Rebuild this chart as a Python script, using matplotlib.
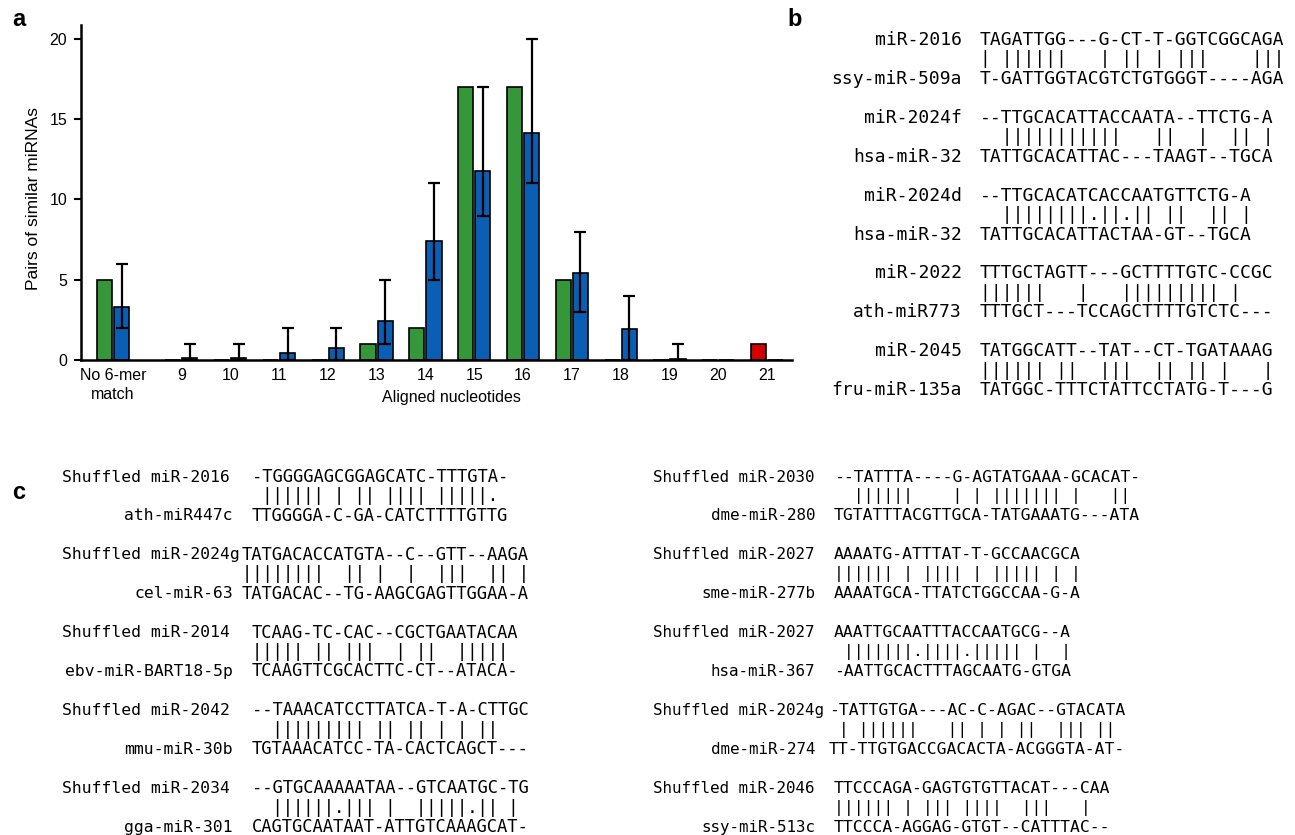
import numpy as np
import matplotlib.pyplot as plt

# ---- panel a data ----
categories = ["No 6-mer\nmatch", "9", "10", "11", "12", "13", "14",
              "15", "16", "17", "18", "19", "20", "21"]
observed = [5, 0, 0, 0, 0, 1, 2, 17, 17, 5, 0, 0, 0, 1]
shuffled_mean = [3.3, 0.1, 0.1, 0.42, 0.77, 2.4, 7.4, 11.75, 14.15, 5.4, 1.95, 0.08, 0, 0]
shuffled_low = [2, 0, 0, 0, 0, 1, 5, 9, 11, 3, 0, 0, np.nan, np.nan]
shuffled_high = [6, 1, 1, 2, 2, 5, 11, 17, 20, 8, 4, 1, np.nan, np.nan]

# ---- panel b data ----
b_top_names = ["miR-2016", "miR-2024f", "miR-2024d", "miR-2022", "miR-2045"]
b_top_seqs = ["TAGATTGG---G-CT-T-GGTCGGCAGA",
              "--TTGCACATTACCAATA--TTCTG-A",
              "--TTGCACATCACCAATGTTCTG-A",
              "TTTGCTAGTT---GCTTTTGTC-CCGC",
              "TATGGCATT--TAT--CT-TGATAAAG"]
b_matches = ["| ||||||   | || | |||    |||",
             "  |||||||||||   ||  |  || |",
             "  ||||||||.||.|| ||  || |",
             "||||||   |   ||||||||| |",
             "|||||| ||  |||  || || |   |"]
b_bot_names = ["ssy-miR-509a", "hsa-miR-32", "hsa-miR-32", "ath-miR773", "fru-miR-135a"]
b_bot_seqs = ["T-GATTGGTACGTCTGTGGGT----AGA",
              "TATTGCACATTAC---TAAGT--TGCA",
              "TATTGCACATTACTAA-GT--TGCA",
              "TTTGCT---TCCAGCTTTTGTCTC---",
              "TATGGC-TTTCTATTCCTATG-T---G"]

# ---- panel c data ----
cl_top_names = ["Shuffled miR-2016", "Shuffled miR-2024g", "Shuffled miR-2014",
                "Shuffled miR-2042", "Shuffled miR-2034"]
cl_top_seqs = ["-TGGGGAGCGGAGCATC-TTTGTA-",
               "TATGACACCATGTA--C--GTT--AAGA",
               "TCAAG-TC-CAC--CGCTGAATACAA",
               "--TAAACATCCTTATCA-T-A-CTTGC",
               "--GTGCAAAAATAA--GTCAATGC-TG"]
cl_matches = [" |||||| | || |||| |||||.",
              "||||||||  || |  |  |||  || |",
              "||||| || |||  | ||  |||||",
              "  ||||||||| || || | | ||",
              "  ||||||.||| |  |||||.|| |"]
cl_bot_names = ["ath-miR447c", "cel-miR-63", "ebv-miR-BART18-5p", "mmu-miR-30b", "gga-miR-301"]
cl_bot_seqs = ["TTGGGGA-C-GA-CATCTTTTGTTG",
               "TATGACAC--TG-AAGCGAGTTGGAA-A",
               "TCAAGTTCGCACTTC-CT--ATACA-",
               "TGTAAACATCC-TA-CACTCAGCT---",
               "CAGTGCAATAAT-ATTGTCAAAGCAT-"]

cr_top_names = ["Shuffled miR-2030", "Shuffled miR-2027", "Shuffled miR-2027",
                "Shuffled miR-2024g", "Shuffled miR-2046"]
cr_top_seqs = ["--TATTTA----G-AGTATGAAA-GCACAT-",
               "AAAATG-ATTTAT-T-GCCAACGCA",
               "AAATTGCAATTTACCAATGCG--A",
               "-TATTGTGA---AC-C-AGAC--GTACATA",
               "TTCCCAGA-GAGTGTGTTACAT---CAA"]
cr_matches = ["  ||||||    | | ||||||| |   ||",
              "|||||| | |||| | ||||| | |",
              " |||||||.||||.||||| |  |",
              " | ||||||   || | | ||  ||| ||",
              "|||||| | ||| ||||  |||   |"]
cr_bot_names = ["dme-miR-280", "sme-miR-277b", "hsa-miR-367", "dme-miR-274", "ssy-miR-513c"]
cr_bot_seqs = ["TGTATTTACGTTGCA-TATGAAATG---ATA",
               "AAAATGCA-TTATCTGGCCAA-G-A",
               "-AATTGCACTTTAGCAATG-GTGA",
               "TT-TTGTGACCGACACTA-ACGGGTA-AT-",
               "TTCCCA-AGGAG-GTGT--CATTTAC--"]

W, H = 1295, 835
plt.rcParams['font.family'] = ['Liberation Sans', 'DejaVu Sans']
fig = plt.figure(figsize=(W / 100, H / 100), dpi=100)


def fx(px):
    return px / W


def fy(py):
    return 1 - py / H


# ---- panel a ----
green = '#36973a'
blue = '#0a5fb4'
red = '#d40000'

ax = fig.add_axes([fx(81), fy(360), fx(792) - fx(81), fy(25) - fy(360)])
n = len(categories)
idx = np.arange(n)
x = idx + np.where(idx > 0, 0.4, 0.0)
off = 0.175
wbar = 0.31
obs_colors = [red if c == "21" else green for c in categories]
ax.bar(x - off, observed, width=wbar, color=obs_colors, edgecolor='black', linewidth=1.2, zorder=2)
ax.bar(x + off, shuffled_mean, width=wbar, color=blue, edgecolor='black', linewidth=1.2, zorder=2)
mean = np.array(shuffled_mean, dtype=float)
lo = np.array(shuffled_low, dtype=float)
hi = np.array(shuffled_high, dtype=float)
ax.errorbar(x + off, mean, yerr=[mean - lo, hi - mean], fmt='none', ecolor='black',
            elinewidth=1.6, capsize=4.5, capthick=1.6, zorder=3)

ax.set_xlim(-0.656, 13.91)
ax.set_ylim(0, 20.87)
ax.set_yticks([0, 5, 10, 15, 20])
ax.set_xticks(x)
ax.set_xticklabels(categories, fontsize=11.5, linespacing=1.3)
ax.tick_params(axis='x', length=0, pad=6)
ax.tick_params(axis='y', length=5, width=1.5, labelsize=11.5, pad=5)
for s in ['top', 'right']:
    ax.spines[s].set_visible(False)
for s in ['left', 'bottom']:
    ax.spines[s].set_linewidth(1.8)
ax.set_ylabel("Pairs of similar miRNAs", fontsize=12.5)
ax.yaxis.set_label_coords((41 - 81) / 711, (360 - 199) / 335)
ax.set_xlabel("Aligned nucleotides", fontsize=11.5)
ax.xaxis.set_label_coords((451 - 81) / 711, -(390 - 360) / 335)

fig.text(fx(19), fy(20), "a", fontsize=17, fontweight='bold', ha='center', va='center')
fig.text(fx(795), fy(19), "b", fontsize=17, fontweight='bold', ha='center', va='center')
fig.text(fx(19), fy(493), "c", fontsize=17, fontweight='bold', ha='center', va='center')

mono = 'DejaVu Sans Mono'


def draw_pairs(top_names, top_seqs, matches, bot_names, bot_seqs, y0, step,
               top_x, top_ha, bot_x, seq_x, name_size, seq_size, long_shift):
    for k in range(len(top_names)):
        yt = y0 + 2 * k * step
        yb = yt + step
        ym = yt + step / 2
        sx = seq_x - (long_shift if len(top_names[k]) > 17 else 0)
        fig.text(fx(top_x), fy(yt), top_names[k], family=mono, fontsize=name_size,
                 ha=top_ha, va='center')
        fig.text(fx(bot_x), fy(yb), bot_names[k], family=mono, fontsize=name_size,
                 ha='right', va='center')
        fig.text(fx(sx), fy(yt), top_seqs[k], family=mono, fontsize=seq_size,
                 ha='left', va='center')
        fig.text(fx(sx), fy(ym), matches[k], family=mono, fontsize=seq_size,
                 ha='left', va='center')
        fig.text(fx(sx), fy(yb), bot_seqs[k], family=mono, fontsize=seq_size,
                 ha='left', va='center')


draw_pairs(b_top_names, b_top_seqs, b_matches, b_bot_names, b_bot_seqs,
           40, 38.9, 962, 'right', 962, 980, 13, 13, 0)
draw_pairs(cl_top_names, cl_top_seqs, cl_matches, cl_bot_names, cl_bot_seqs,
           477, 38.9, 62, 'left', 233, 252, 11.8, 12.3, 10)
draw_pairs(cr_top_names, cr_top_seqs, cr_matches, cr_bot_names, cr_bot_seqs,
           477, 38.9, 653, 'left', 815, 834, 11.4, 11.8, 5)

fig.savefig("out.png", dpi=100)
